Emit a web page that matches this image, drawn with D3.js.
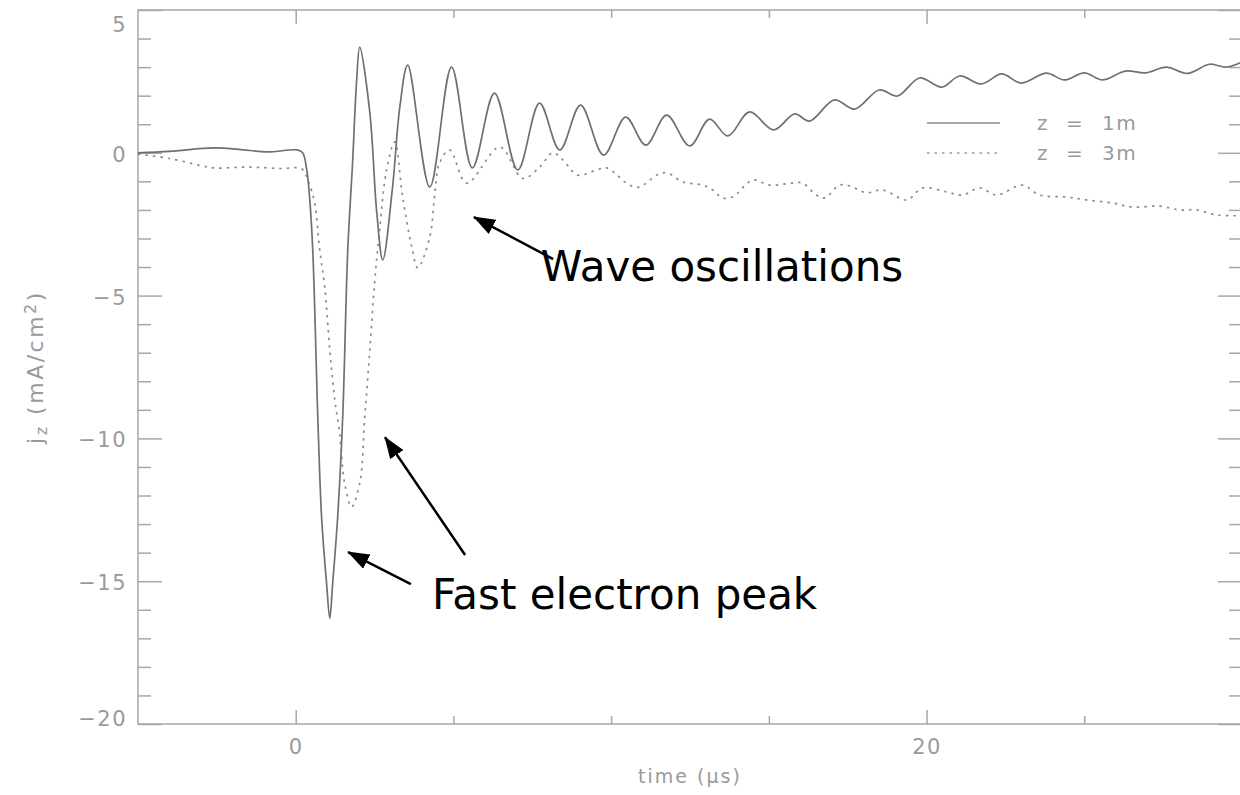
<!DOCTYPE html>
<html>
<head>
<meta charset="utf-8">
<script src="https://cdn.jsdelivr.net/npm/d3@7"></script>
<style>
  html, body { margin: 0; padding: 0; background: #fff; overflow: hidden; }
  svg { display: block; }
  .axis text { font-family: "DejaVu Sans", sans-serif; font-size: 21px; fill: #9a9a9a; letter-spacing: 1.5px; }
  .axis line { stroke: #a8a8a8; stroke-width: 1.5; }
  .axis path { display: none; }
  .lbl { font-family: "DejaVu Sans", sans-serif; fill: #9a9a9a; }
  .note { font-family: "DejaVu Sans", sans-serif; font-size: 42px; fill: #000; }
</style>
</head>
<body>
<svg id="chart" width="1240" height="795"></svg>
<script>
"use strict";

// z = 1m (solid), time in microseconds, current density in mA/cm^2
const t1 = [-5, -4, -2.6, -1.8, -0.9, 0.05, 0.22, 0.35, 0.44, 0.54, 0.7, 0.82, 0.98, 1.08,
  1.17, 1.33, 1.49, 1.65, 1.8, 1.93, 2.03, 2.35, 2.57, 2.76, 3.07, 3.3, 3.55, 4.25, 4.94,
  5.6, 6.3, 7.04, 7.73, 8.37, 9.03, 9.76, 10.46, 11.1, 11.76, 12.49, 13.12, 13.7, 14.39,
  15.15, 15.82, 16.29, 17.08, 17.72, 18.5, 19.08, 19.78, 20.48, 21.05, 21.74, 22.38, 23.0,
  23.8, 24.37, 25.0, 25.58, 26.3, 26.95, 27.6, 28.27, 28.97, 29.5, 30];
const j1 = [0.0, 0.05, 0.17, 0.12, 0.03, 0.1, 0.0, -0.6, -1.55, -3.4, -9.25, -12.75, -15.1, -16.3,
  -15.1, -12.75, -9.25, -3.4, -0.4, 2.5, 3.7, 1.4, -2.1, -3.75, -1.2, 1.6, 3.07, -1.2, 3.0,
  -0.53, 2.09, -0.6, 1.74, 0.1, 1.67, -0.08, 1.25, 0.27, 1.32, 0.24, 1.18, 0.59, 1.43,
  0.8, 1.36, 1.11, 1.85, 1.53, 2.2, 1.99, 2.62, 2.3, 2.69, 2.41, 2.76, 2.44,
  2.79, 2.55, 2.8, 2.55, 2.86, 2.8, 3.0, 2.78, 3.1, 3.0, 3.18];

// z = 3m (dotted)
const t3 = [-5, -4, -3, -2.6, -1.5, -0.5, 0.2, 0.4, 0.6, 0.76, 0.92, 1.08, 1.24, 1.39, 1.55, 1.77,
  2.03, 2.19, 2.35, 2.5, 2.66, 2.88, 3.14, 3.39, 3.68, 3.87, 4.25, 4.4, 4.56, 4.88, 5.42,
  6.47, 7.2, 7.73, 8.15, 8.47, 8.94, 9.54, 9.86, 10.58, 10.9, 11.45, 11.76, 12.27, 12.9,
  13.22, 13.53, 13.85, 14.49, 15.0, 15.75, 16.07, 16.5, 16.77, 17.24, 17.56, 18.1, 18.6,
  19.37, 19.87, 20.63, 21.14, 21.68, 22.22, 23.04, 23.58, 24.44, 25.07, 25.9, 26.53, 27.39,
  28.02, 28.56, 29.2, 30];
const j3 = [-0.05, -0.2, -0.45, -0.53, -0.5, -0.55, -0.57, -1.0, -1.76, -3.4, -4.7, -6.9, -8.66, -9.8, -11.56, -12.4,
  -11.56, -9.25, -6.9, -4.56, -2.7, -0.6, 0.38, -1.55, -3.3, -4.03, -2.95, -1.55, -0.36, 0.1, -1.06,
  0.2, -0.9, -0.5, 0.0, -0.25, -0.78, -0.6, -0.53, -1.13, -1.2, -0.78, -0.7, -1.02, -1.13,
  -1.3, -1.58, -1.55, -0.95, -1.13, -1.06, -1.06, -1.48, -1.58, -1.13, -1.16, -1.4, -1.3,
  -1.65, -1.23, -1.37, -1.48, -1.23, -1.48, -1.13, -1.48, -1.55, -1.65, -1.76, -1.9, -1.87,
  -2.0, -2.0, -2.18, -2.2];

// tick values
const xMajor = [0, 20];
const xMinor = [5, 10, 15, 25];
const yMajor = [5, 0, -5, -10, -15, -20];
const yMinor = d3.range(-19, 5).filter(v => v % 5 !== 0);

const seriesNames = ["z = 1m", "z = 3m"];

// annotations: [tail t, tail j, tip t, tip j]
const arrows = [[8.16, -3.72, 5.65, -2.25], [5.37, -14.08, 2.83, -9.96], [3.65, -15.10, 1.66, -13.98]];
const notes = [["Wave oscillations", 7.77, -4.49], ["Fast electron peak", 4.32, -15.97]];

const WIDTH = 1240, HEIGHT = 795;
const LEFT = 138, RIGHT = 1242, TOP = 10, BOTTOM = 724;

const svg = d3.select("#chart");
const X = d3.scaleLinear().domain([-5, 30]).range([LEFT, RIGHT]);
const Y = d3.scaleLinear().domain([-20, 5]).range([BOTTOM, TOP]);

// frame
svg.append("rect")
  .attr("x", LEFT).attr("y", TOP)
  .attr("width", RIGHT - LEFT).attr("height", BOTTOM - TOP)
  .attr("fill", "none").attr("stroke", "#a8a8a8").attr("stroke-width", 1.5);

function ax(gen, vals, size, labels, tx, ty) {
  const g = svg.append("g").attr("class", "axis").attr("transform", `translate(${tx},${ty})`);
  g.call(gen.tickValues(vals).tickSizeInner(-size).tickSizeOuter(0).tickPadding(labels ? 15 : 0)
    .tickFormat(labels ? d3.format("d") : ""));
  return g;
}

ax(d3.axisBottom(X), xMinor, 8, false, 0, BOTTOM);
ax(d3.axisBottom(X), xMajor, 14, true, 0, BOTTOM);
ax(d3.axisTop(X), xMinor, 8, false, 0, TOP);
ax(d3.axisTop(X), xMajor, 14, false, 0, TOP);

const yl = ax(d3.axisLeft(Y), yMajor, 24, true, LEFT, 0);
yl.selectAll(".tick text").attr("x", -11)
  .attr("dy", d => d === 5 ? "1.0em" : d === -20 ? "0.05em" : "0.4em");
ax(d3.axisLeft(Y), yMinor, 13, false, LEFT, 0);
ax(d3.axisRight(Y), yMajor, 24, false, RIGHT, 0);
ax(d3.axisRight(Y), yMinor, 13, false, RIGHT, 0);

// axis titles
svg.append("text").attr("class", "lbl")
  .attr("x", (LEFT + RIGHT) / 2).attr("y", 783)
  .attr("text-anchor", "middle").style("font-size", "19px").style("letter-spacing", "2px")
  .text("time (μs)");

const yt = svg.append("text").attr("class", "lbl")
  .attr("transform", `translate(43,${(TOP + BOTTOM) / 2}) rotate(-90)`)
  .attr("text-anchor", "middle").style("font-size", "22px").style("letter-spacing", "2.5px");
yt.append("tspan").text("j");
yt.append("tspan").attr("baseline-shift", "-25%").style("font-size", "16px").text("z");
yt.append("tspan").text(" (mA/cm");
yt.append("tspan").attr("baseline-shift", "45%").style("font-size", "16px").text("2");
yt.append("tspan").text(")");

// curves
const line = d3.line().curve(d3.curveCatmullRom.alpha(0.5));
svg.append("path")
  .attr("d", line(t3.map((t, i) => [X(t), Y(j3[i])])))
  .attr("fill", "none").attr("stroke", "#8c8c8c").attr("stroke-width", 1.7)
  .attr("stroke-dasharray", "2.5,5");
svg.append("path")
  .attr("d", line(t1.map((t, i) => [X(t), Y(j1[i])])))
  .attr("fill", "none").attr("stroke", "#707070").attr("stroke-width", 1.7);

// legend
const leg = svg.append("g");
seriesNames.forEach((name, i) => {
  const yy = 123 + i * 30;
  leg.append("line").attr("x1", 927).attr("x2", 1000).attr("y1", yy).attr("y2", yy)
    .attr("stroke", i ? "#9a9a9a" : "#8a8a8a").attr("stroke-width", 1.5)
    .attr("stroke-dasharray", i ? "2.5,5" : null);
  const parts = name.split(" ");
  [1037, 1066, 1102].forEach((px, k) => {
    leg.append("text").attr("class", "lbl").attr("x", px).attr("y", yy).attr("dy", "0.36em")
      .style("font-size", "20px").style("letter-spacing", "1.5px").text(parts[k]);
  });
});

// annotations
svg.append("defs").append("marker")
  .attr("id", "head").attr("markerUnits", "userSpaceOnUse")
  .attr("viewBox", "0 0 22 16").attr("refX", 21).attr("refY", 8)
  .attr("markerWidth", 22).attr("markerHeight", 16).attr("orient", "auto")
  .append("path").attr("d", "M0,0 L22,8 L0,16 Z").attr("fill", "#000");

arrows.forEach(a => {
  svg.append("line")
    .attr("x1", X(a[0])).attr("y1", Y(a[1])).attr("x2", X(a[2])).attr("y2", Y(a[3]))
    .attr("stroke", "#000").attr("stroke-width", 2.5).attr("marker-end", "url(#head)");
});
notes.forEach(n => {
  svg.append("text").attr("class", "note").attr("x", X(n[1])).attr("y", Y(n[2])).text(n[0]);
});
</script>
</body>
</html>
